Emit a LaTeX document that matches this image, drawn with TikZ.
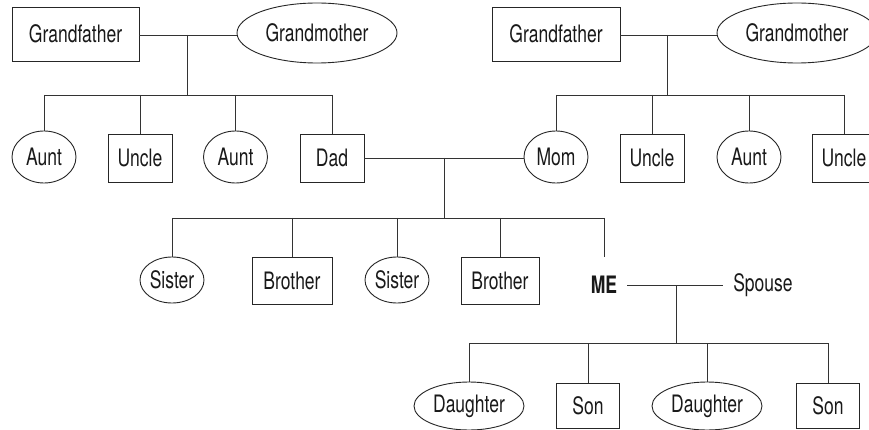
\documentclass[tikz,border=0pt]{standalone}
\usepackage{fontspec}
\setmainfont[FakeStretch=0.73]{TeX Gyre Heros}
\usetikzlibrary{shapes.geometric}
\newcommand{\famfont}{\fontsize{24}{26}\selectfont}
\tikzset{
  person/.style={font=\famfont, inner sep=0pt, line width=0.9pt, draw=black!85, text=black!90},
  male/.style={person, rectangle, minimum width=64pt, minimum height=48pt},
  female/.style={person, ellipse, minimum width=64pt, minimum height=52pt},
  plain/.style={font=\famfont, inner xsep=10pt, inner ysep=0pt, minimum height=56pt, text=black!90},
  link/.style={line width=0.9pt, draw=black!80}
}
\begin{document}
\begin{tikzpicture}[x=1pt,y=-1pt]
\clip (0,0) rectangle (869,430);
\fill[white] (0,0) rectangle (869,430);
% grandparents
\node[male, minimum width=127pt, minimum height=54pt] (gfA) at (75.5,34) {Grandfather};
\node[female, minimum width=160pt, minimum height=60pt] (gmA) at (317,33) {Grandmother};
\node[male, minimum width=128pt, minimum height=54pt] (gfB) at (556,34) {Grandfather};
\node[female, minimum width=160pt, minimum height=60pt] (gmB) at (797,33) {Grandmother};
% parents generation
\node[female] (auntA1) at (44,157) {Aunt};
\node[male] (uncleA) at (140,158) {Uncle};
\node[female] (auntA2) at (235.5,157) {Aunt};
\node[male] (dad) at (332,158) {Dad};
\node[female] (mom) at (556,157) {Mom};
\node[male] (uncleB1) at (652,158) {Uncle};
\node[female] (auntB) at (749,157) {Aunt};
\node[male] (uncleB2) at (844,158) {Uncle};
% my generation
\node[female, minimum height=46pt] (sis1) at (172,280) {Sister};
\node[male, minimum width=80pt, minimum height=47pt] (bro1) at (292,280.5) {Brother};
\node[female, minimum height=46pt] (sis2) at (397,280) {Sister};
\node[male, minimum width=78pt, minimum height=47pt] (bro2) at (500,280.5) {Brother};
\node[plain, font=\famfont\bfseries] (me) at (604,285) {ME};
\node[plain] (spouse) at (763,285) {Spouse};
% children
\node[female, minimum width=110pt, minimum height=48pt] (dau1) at (469,406) {Daughter};
\node[male, minimum width=63pt, minimum height=45pt] (son1) at (588,405.5) {Son};
\node[female, minimum width=110pt, minimum height=48pt] (dau2) at (707,406) {Daughter};
\node[male, minimum width=63pt, minimum height=45pt] (son2) at (828,405.5) {Son};
% junction coordinates
\coordinate (jA) at (187,35);
\coordinate (barA) at (187,95);
\coordinate (jB) at (667,35);
\coordinate (barB) at (667,95);
\coordinate (jP) at (444,158);
\coordinate (barP) at (444,218);
\coordinate (jM) at (676,285);
\coordinate (barM) at (676,343);
% left grandparents
\draw[link] (gfA.east |- jA) -- (gmA.west |- jA);
\draw[link] (jA) -- (barA);
\draw[link] (auntA1.north |- barA) -- (dad.north |- barA);
\foreach \c in {auntA1,uncleA,auntA2,dad} \draw[link] (\c.north |- barA) -- (\c.north);
% right grandparents
\draw[link] (gfB.east |- jB) -- (gmB.west |- jB);
\draw[link] (jB) -- (barB);
\draw[link] (mom.north |- barB) -- (uncleB2.north |- barB);
\foreach \c in {mom,uncleB1,auntB,uncleB2} \draw[link] (\c.north |- barB) -- (\c.north);
% parents
\draw[link] (dad.east) -- (mom.west |- dad.east);
\draw[link] (jP) -- (barP);
\draw[link] (sis1.north |- barP) -- (me.north |- barP);
\foreach \c in {sis1,bro1,sis2,bro2,me} \draw[link] (\c.north |- barP) -- (\c.north);
% me and spouse
\draw[link] (me.east) -- (spouse.west);
\draw[link] (jM) -- (barM);
\draw[link] (dau1.north |- barM) -- (son2.north |- barM);
\foreach \c in {dau1,son1,dau2,son2} \draw[link] (\c.north |- barM) -- (\c.north);
\end{tikzpicture}
\end{document}
